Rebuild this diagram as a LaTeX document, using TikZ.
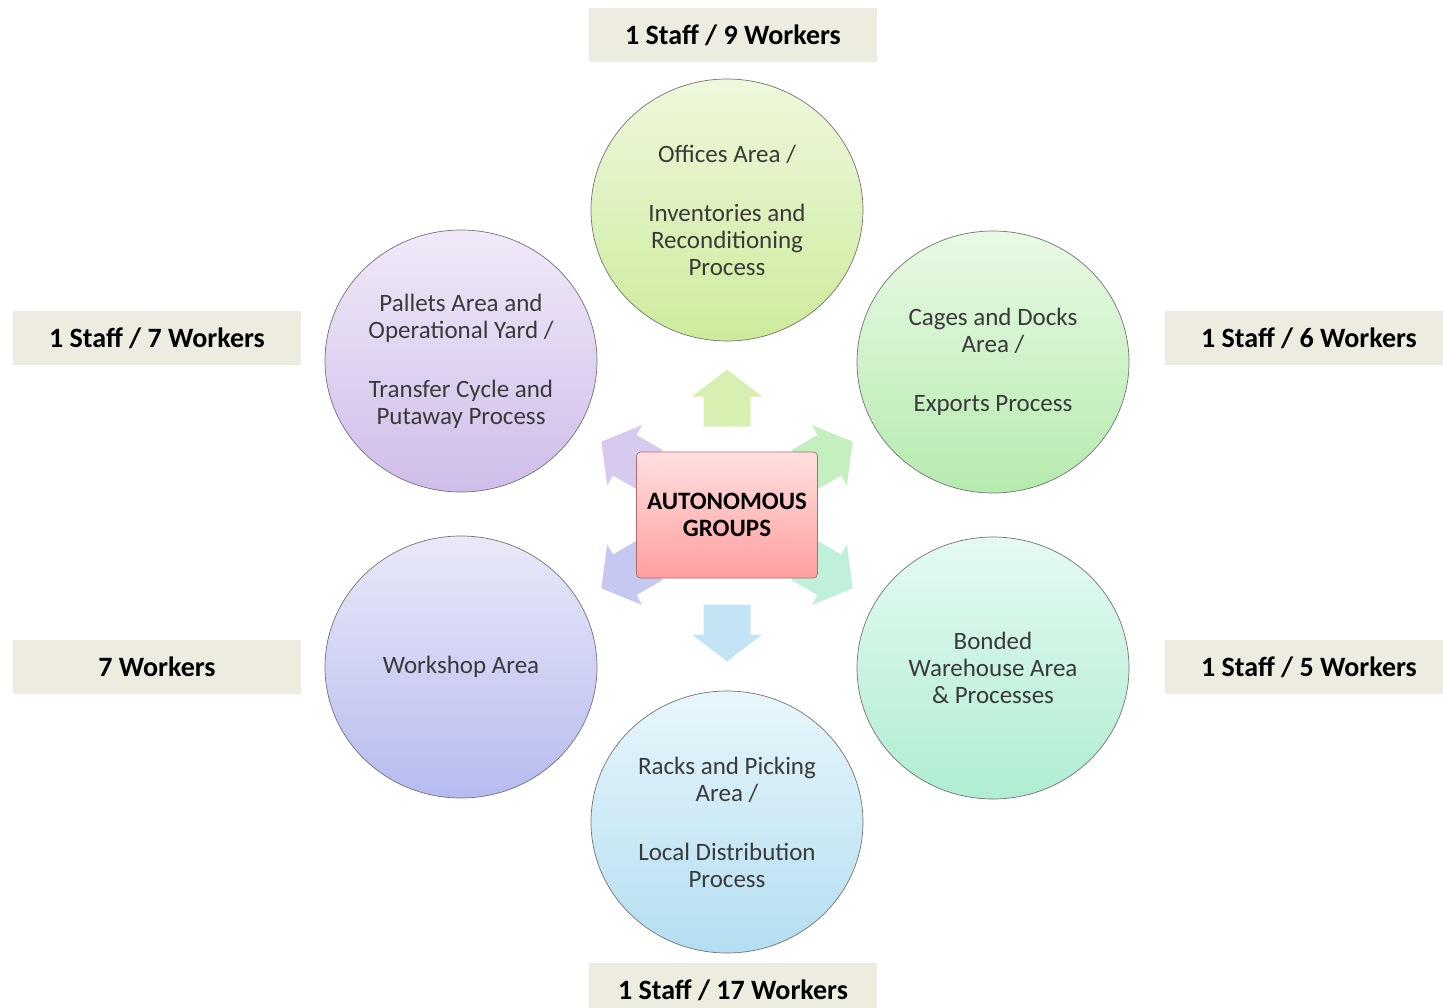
\documentclass[tikz,border=0pt]{standalone}
\usepackage{fontspec}
\setmainfont{Carlito}
\usetikzlibrary{shapes.geometric}

\definecolor{labelbg}{HTML}{EEECE1}
\definecolor{areatext}{HTML}{3A3A3A}
\definecolor{hubedge}{HTML}{B06A6A}
% colores de las areas (claro / oscuro)
\definecolor{offA}{HTML}{EFF8DC}\definecolor{offB}{HTML}{CDEB9C}
\definecolor{cagA}{HTML}{E9F9E5}\definecolor{cagB}{HTML}{B5EBAE}
\definecolor{bonA}{HTML}{E5FAF1}\definecolor{bonB}{HTML}{AFEDD1}
\definecolor{racA}{HTML}{E8F6FB}\definecolor{racB}{HTML}{B3DEF1}
\definecolor{wrkA}{HTML}{E9E9F8}\definecolor{wrkB}{HTML}{B6BBEF}
\definecolor{palA}{HTML}{F1E9F8}\definecolor{palB}{HTML}{CFBDEA}

\tikzset{
  area/.style={ellipse, draw=black!55, line width=0.7pt, minimum width=272pt,
    minimum height=262pt, inner sep=0pt, align=center, text=areatext,
    font=\fontsize{25}{27}\selectfont},
  staff/.style={fill=labelbg, minimum width=288pt, minimum height=54pt,
    inner sep=0pt, font=\bfseries\fontsize{28}{32}\selectfont},
  hub/.style={rectangle, rounded corners=4pt, draw=hubedge, line width=0.7pt,
    top color=red!12, bottom color=red!38, minimum width=181pt,
    minimum height=126pt, align=center, font=\bfseries\fontsize{25}{27}\selectfont}
}

\begin{document}
\begin{tikzpicture}[x=1pt,y=-1pt]
    \useasboundingbox (0,0) rectangle (1443,1007);

    % Flechas alrededor del centro
    \foreach \ang/\px/\py/\col in {90/727/398/offB, 30/828/456/cagB, -30/828/574/bonB,
        -90/727/633/racB, 210/626/574/wrkB, 150/626/456/palB}
        \fill[\col!80!white, shift={(\px,\py)}, rotate=\ang]
            (-28.5,-23.5) -- (1.5,-23.5) -- (1.5,-35) -- (28.5,0)
            -- (1.5,35) -- (1.5,23.5) -- (-28.5,23.5) -- cycle;

    % Centro
    \node[hub] (hub) at (727,515) {AUTONOMOUS\\GROUPS};

    % Areas
    \node[area, top color=offA, bottom color=offB] (offices) at (727,210)
        {Offices Area /\\[32pt]Inventories and\\Reconditioning\\Process};
    \node[area, top color=cagA, bottom color=cagB] (cages) at (993,362)
        {Cages and Docks\\Area /\\[32pt]Exports Process};
    \node[area, top color=bonA, bottom color=bonB] (bonded) at (993,668)
        {Bonded\\Warehouse Area\\\& Processes};
    \node[area, top color=racA, bottom color=racB] (racks) at (727,822)
        {Racks and Picking\\Area /\\[32pt]Local Distribution\\Process};
    \node[area, top color=wrkA, bottom color=wrkB] (workshop) at (461,667)
        {Workshop Area};
    \node[area, top color=palA, bottom color=palB] (pallets) at (461,361)
        {Pallets Area and\\Operational Yard /\\[32pt]Transfer Cycle and\\Putaway Process};

    % Personal de cada area
    \node[staff] (offstaff) at (733,35) {1 Staff / 9 Workers};
    \node[staff] (palstaff) at (157,338) {1 Staff / 7 Workers};
    \node[staff] (cagstaff) at (1309,338) {1 Staff / 6 Workers};
    \node[staff] (wrkstaff) at (157,667) {7 Workers};
    \node[staff] (bonstaff) at (1309,667) {1 Staff / 5 Workers};
    \node[staff] (racstaff) at (733,990) {1 Staff / 17 Workers};
\end{tikzpicture}
\end{document}
